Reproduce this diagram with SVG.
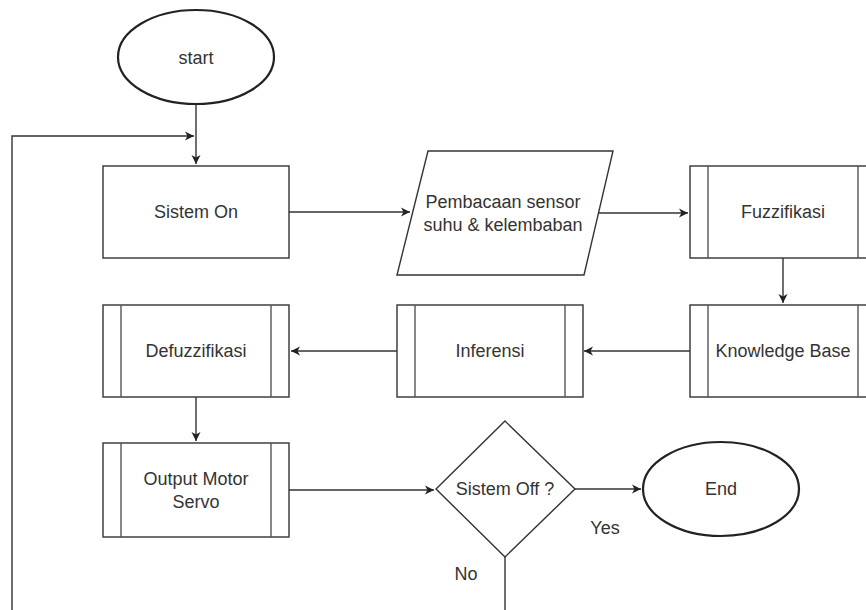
<svg xmlns="http://www.w3.org/2000/svg" width="866" height="610" viewBox="0 0 866 610">
<style>
.s{fill:#fff;stroke:#333;stroke-width:1.4}
.e{fill:#fff;stroke:#222;stroke-width:2.2}
.in{fill:none;stroke:#555;stroke-width:1.4}
.t{font-family:"Liberation Sans",Arial,sans-serif;font-size:18px;fill:#333;text-anchor:middle;dominant-baseline:central}
.c{fill:none;stroke:#333;stroke-width:1.4}
</style>
<defs>
<marker id="a" markerWidth="10" markerHeight="10" refX="9" refY="5" orient="auto" markerUnits="userSpaceOnUse">
<path d="M0,0.5 L9,5 L0,9.5 L2.5,5 Z" fill="#222"/>
</marker>
</defs>
<rect width="866" height="610" fill="#fff"/>
<g id="connectors">
<path class="c" d="M196,104 V164" marker-end="url(#a)"/>
<path class="c" d="M12,610 V136 H194" marker-end="url(#a)"/>
<path class="c" d="M289,212 H410" marker-end="url(#a)"/>
<path class="c" d="M599,213 H688" marker-end="url(#a)"/>
<path class="c" d="M783,258 V303" marker-end="url(#a)"/>
<path class="c" d="M690,351 H584" marker-end="url(#a)"/>
<path class="c" d="M397,351 H291" marker-end="url(#a)"/>
<path class="c" d="M196,397 V441" marker-end="url(#a)"/>
<path class="c" d="M289,490 H434" marker-end="url(#a)"/>
<path class="c" d="M575,489 H641" marker-end="url(#a)"/>
<path class="c" d="M505,557 V610"/>
<text class="t" x="605" y="528">Yes</text>
<text class="t" x="466" y="574">No</text>
</g>
<g id="start">
<ellipse class="e" cx="196" cy="57" rx="78" ry="47"/>
<text class="t" x="196" y="58">start</text>
</g>
<g id="sistem-on">
<rect class="s" x="103" y="166" width="186" height="92"/>
<text class="t" x="196" y="212">Sistem On</text>
</g>
<g id="pembacaan">
<polygon class="s" points="428,151 613,151 584,275 397,275"/>
<text class="t" x="503" y="202">Pembacaan sensor</text>
<text class="t" x="503" y="225">suhu &amp; kelembaban</text>
</g>
<g id="fuzzifikasi">
<rect class="s" x="690" y="166" width="186" height="92"/>
<path class="in" d="M708,166 V258 M858,166 V258"/>
<text class="t" x="783" y="212">Fuzzifikasi</text>
</g>
<g id="knowledge-base">
<rect class="s" x="690" y="305" width="186" height="92"/>
<path class="in" d="M708,305 V397 M858,305 V397"/>
<text class="t" x="783" y="351">Knowledge Base</text>
</g>
<g id="inferensi">
<rect class="s" x="397" y="305" width="186" height="92"/>
<path class="in" d="M415,305 V397 M565,305 V397"/>
<text class="t" x="490" y="351">Inferensi</text>
</g>
<g id="defuzzifikasi">
<rect class="s" x="103" y="305" width="186" height="92"/>
<path class="in" d="M121,305 V397 M271,305 V397"/>
<text class="t" x="196" y="351">Defuzzifikasi</text>
</g>
<g id="output">
<rect class="s" x="103" y="443" width="186" height="94"/>
<path class="in" d="M121,443 V537 M271,443 V537"/>
<text class="t" x="196" y="479">Output Motor</text>
<text class="t" x="196" y="502">Servo</text>
</g>
<g id="sistem-off">
<polygon class="s" points="505,421 575,489 505,557 436,489"/>
<text class="t" x="505" y="489">Sistem Off ?</text>
</g>
<g id="end">
<ellipse class="e" cx="721" cy="489" rx="78" ry="47"/>
<text class="t" x="721" y="489">End</text>
</g>
</svg>
